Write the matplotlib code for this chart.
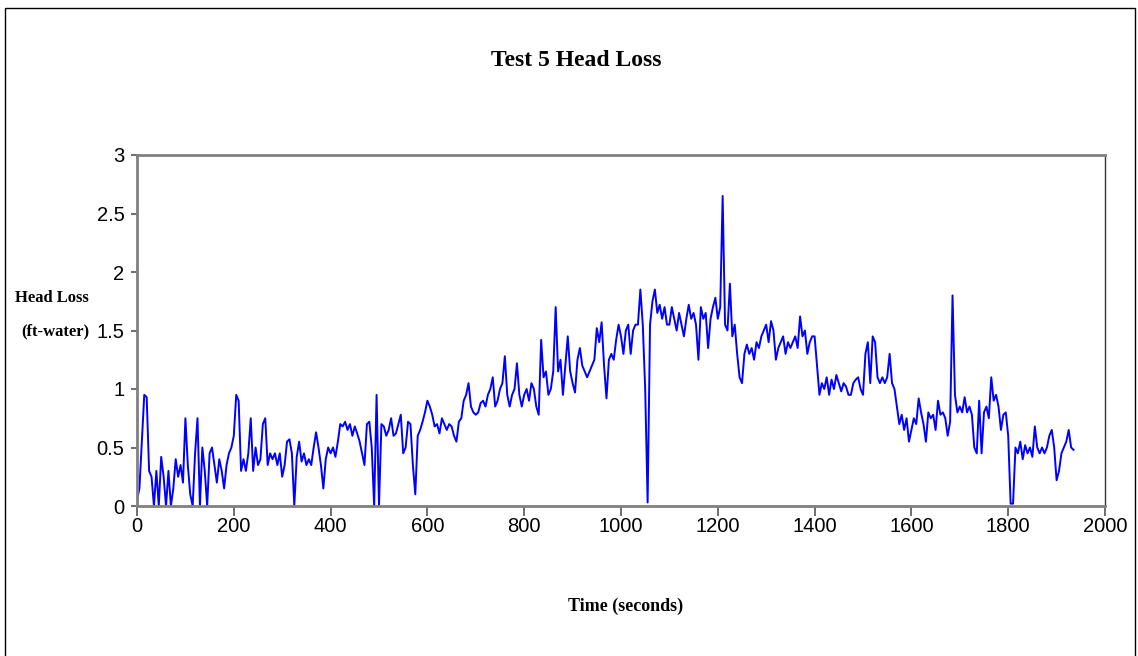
import numpy as np
import matplotlib
matplotlib.use("Agg")
import matplotlib.pyplot as plt
from matplotlib import font_manager
from matplotlib.patches import Rectangle

# ---- data (head loss in ft-water, sampled every 5 s) ----
sample_step_s = 5
hl_0000 = [0.05,0.15,0.55,0.95,0.93,0.3,0.25,0.0,0.3,0.0,0.42,0.25,0.0,0.3,0.0,0.15,0.4,0.25,0.35,0.2]
hl_0100 = [0.75,0.35,0.1,0.0,0.45,0.75,0.0,0.5,0.3,0.0,0.45,0.5,0.35,0.2,0.4,0.3,0.15,0.35,0.45,0.5]
hl_0200 = [0.6,0.95,0.9,0.3,0.4,0.3,0.45,0.75,0.3,0.5,0.35,0.4,0.7,0.75,0.35,0.45,0.4,0.45,0.35,0.45]
hl_0300 = [0.25,0.35,0.55,0.57,0.45,0.0,0.42,0.55,0.38,0.45,0.35,0.4,0.35,0.5,0.63,0.5,0.35,0.15,0.4,0.5]
hl_0400 = [0.45,0.5,0.42,0.55,0.7,0.68,0.72,0.65,0.7,0.6,0.68,0.62,0.55,0.45,0.35,0.7,0.72,0.5,0.0,0.95]
hl_0500 = [0.0,0.7,0.68,0.6,0.65,0.75,0.6,0.62,0.7,0.78,0.45,0.5,0.72,0.7,0.35,0.1,0.6,0.65,0.72,0.8]
hl_0600 = [0.9,0.85,0.78,0.68,0.7,0.62,0.75,0.7,0.65,0.7,0.68,0.6,0.55,0.72,0.75,0.9,0.95,1.05,0.85,0.8]
hl_0700 = [0.78,0.8,0.88,0.9,0.85,0.95,1.0,1.1,0.85,0.9,1.0,1.05,1.28,0.95,0.85,0.95,1.0,1.22,0.95,0.85]
hl_0800 = [0.95,1.0,0.9,1.05,1.0,0.85,0.78,1.42,1.1,1.15,0.95,1.0,1.15,1.7,1.15,1.25,0.95,1.2,1.45,1.15]
hl_0900 = [1.05,0.97,1.25,1.35,1.2,1.15,1.1,1.15,1.2,1.25,1.52,1.4,1.57,1.2,0.92,1.25,1.3,1.25,1.42,1.55]
hl_1000 = [1.45,1.3,1.5,1.55,1.3,1.5,1.55,1.55,1.85,1.55,1.0,0.03,1.55,1.75,1.85,1.65,1.72,1.6,1.7,1.55]
hl_1100 = [1.55,1.7,1.6,1.5,1.65,1.55,1.45,1.6,1.72,1.6,1.65,1.55,1.25,1.7,1.6,1.65,1.35,1.6,1.7,1.78]
hl_1200 = [1.6,1.7,2.65,1.55,1.5,1.9,1.45,1.55,1.3,1.1,1.05,1.3,1.38,1.3,1.35,1.25,1.4,1.35,1.45,1.5]
hl_1300 = [1.55,1.4,1.58,1.5,1.25,1.35,1.4,1.45,1.3,1.4,1.35,1.4,1.45,1.35,1.62,1.45,1.5,1.3,1.4,1.45]
hl_1400 = [1.45,1.2,0.95,1.05,1.0,1.1,0.95,1.08,1.0,1.12,1.05,0.98,1.05,1.02,0.95,0.95,1.05,1.08,1.1,1.0]
hl_1500 = [0.95,1.3,1.4,1.05,1.45,1.4,1.1,1.05,1.1,1.05,1.1,1.3,1.05,1.0,0.85,0.7,0.78,0.65,0.75,0.55]
hl_1600 = [0.65,0.75,0.7,0.92,0.8,0.7,0.55,0.8,0.75,0.78,0.65,0.9,0.78,0.8,0.75,0.6,0.72,1.8,0.95,0.8]
hl_1700 = [0.85,0.8,0.93,0.8,0.85,0.78,0.5,0.45,0.9,0.45,0.8,0.85,0.75,1.1,0.9,0.95,0.85,0.65,0.78,0.8]
hl_1800 = [0.6,0.02,0.02,0.5,0.45,0.55,0.4,0.52,0.45,0.5,0.42,0.68,0.5,0.45,0.5,0.45,0.5,0.6,0.65,0.5,
           0.22,0.3,0.45,0.5,0.55,0.65,0.5,0.48]

x_ticks = [0, 200, 400, 600, 800, 1000, 1200, 1400, 1600, 1800, 2000]
y_ticks = [0, 0.5, 1, 1.5, 2, 2.5, 3]
y_tick_labels = ["0", "0.5", "1", "1.5", "2", "2.5", "3"]
title = "Test 5 Head Loss"
x_label = "Time (seconds)"
y_label_1 = "Head Loss"
y_label_2 = "(ft-water)"

head_loss = np.concatenate([hl_0000, hl_0100, hl_0200, hl_0300, hl_0400, hl_0500, hl_0600,
                            hl_0700, hl_0800, hl_0900, hl_1000, hl_1100, hl_1200, hl_1300,
                            hl_1400, hl_1500, hl_1600, hl_1700, hl_1800])
time_s = np.arange(len(head_loss)) * sample_step_s

# ---- fonts ----
installed = {f.name for f in font_manager.fontManager.ttflist}
if "Liberation Sans Narrow" in installed:
    tick_family, tick_size = "Liberation Sans Narrow", 17
else:
    tick_family, tick_size = "Liberation Sans", 14.5
serif = "Liberation Serif"

W, H = 1138, 656
fig = plt.figure(figsize=(W / 100, H / 100), dpi=100)

def fx(px):
    return px / W

def fy(py):
    return 1 - py / H

ax = fig.add_axes([fx(137), fy(506), fx(1105) - fx(137), fy(155) - fy(506)])
ax.plot(time_s, head_loss, color="#0000FF", lw=1.4)

ax.set_xlim(0, 2000)
ax.set_ylim(0, 3)
ax.set_xticks(x_ticks)
ax.set_yticks(y_ticks)
ax.set_xticklabels([str(t) for t in x_ticks], family=tick_family, fontsize=tick_size)
ax.set_yticklabels(y_tick_labels, family=tick_family, fontsize=tick_size)
ax.tick_params(axis="x", direction="out", length=7, width=1.2, color="#555555", pad=1)
ax.tick_params(axis="y", direction="out", length=4, width=1.2, color="#555555", pad=5)

for side in ["top", "left", "bottom"]:
    ax.spines[side].set_color("#808080")
    ax.spines[side].set_linewidth(2)
ax.spines["right"].set_color("#333333")
ax.spines["right"].set_linewidth(1)

fig.text(fx(576), fy(61), title, family=serif, weight="bold", fontsize=17,
         ha="center", va="center")
fig.text(fx(626), fy(606), x_label, family=serif, weight="bold", fontsize=13,
         ha="center", va="center")
fig.text(fx(52), fy(298), y_label_1, family=serif, weight="bold", fontsize=12,
         ha="center", va="center")
fig.text(fx(55), fy(331), y_label_2, family=serif, weight="bold", fontsize=12,
         ha="center", va="center")

fig.patches.append(Rectangle((fx(5), fy(H + 5)), fx(1135) - fx(5), fy(8) - fy(H + 5),
                             transform=fig.transFigure, fill=False, edgecolor="black",
                             lw=1, clip_on=False))

fig.savefig("out.png", dpi=100)
